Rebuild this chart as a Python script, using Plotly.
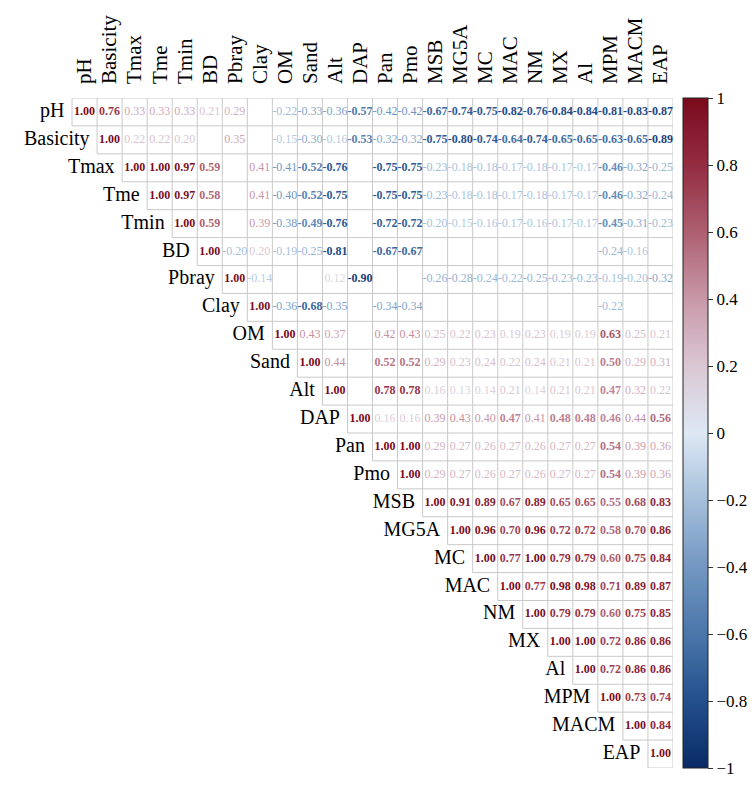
import plotly.graph_objects as go
from plotly.colors import sample_colorscale

variables = ["pH", "Basicity", "Tmax", "Tme", "Tmin", "BD", "Pbray", "Clay", "OM", "Sand",
             "Alt", "DAP", "Pan", "Pmo", "MSB", "MG5A", "MC", "MAC", "NM", "MX", "Al",
             "MPM", "MACM", "EAP"]

N = None  # non-significant (blank) cell
# upper-triangle rows, starting at the diagonal
r_pH = [1.00, 0.76, 0.33, 0.33, 0.33, 0.21, 0.29, N, -0.22, -0.33, -0.36, -0.57, -0.42, -0.42,
        -0.67, -0.74, -0.75, -0.82, -0.76, -0.84, -0.84, -0.81, -0.83, -0.87]
r_Basicity = [1.00, 0.22, 0.22, 0.20, N, 0.35, N, -0.15, -0.30, -0.16, -0.53, -0.32, -0.32,
              -0.75, -0.80, -0.74, -0.64, -0.74, -0.65, -0.65, -0.63, -0.65, -0.89]
r_Tmax = [1.00, 1.00, 0.97, 0.59, N, 0.41, -0.41, -0.52, -0.76, N, -0.75, -0.75, -0.23, -0.18,
          -0.18, -0.17, -0.18, -0.17, -0.17, -0.46, -0.32, -0.25]
r_Tme = [1.00, 0.97, 0.58, N, 0.41, -0.40, -0.52, -0.75, N, -0.75, -0.75, -0.23, -0.18, -0.18,
         -0.17, -0.18, -0.17, -0.17, -0.46, -0.32, -0.24]
r_Tmin = [1.00, 0.59, N, 0.39, -0.38, -0.49, -0.76, N, -0.72, -0.72, -0.20, -0.15, -0.16, -0.17,
          -0.16, -0.17, -0.17, -0.45, -0.31, -0.23]
r_BD = [1.00, -0.20, 0.20, -0.19, -0.25, -0.81, N, -0.67, -0.67, N, N, N, N, N, N, N,
        -0.24, -0.16, N]
r_Pbray = [1.00, -0.14, N, N, 0.12, -0.90, N, N, -0.26, -0.28, -0.24, -0.22, -0.25, -0.23,
           -0.23, -0.19, -0.20, -0.32]
r_Clay = [1.00, -0.36, -0.68, -0.35, N, -0.34, -0.34, N, N, N, N, N, N, N, -0.22, N, N]
r_OM = [1.00, 0.43, 0.37, N, 0.42, 0.43, 0.25, 0.22, 0.23, 0.19, 0.23, 0.19, 0.19, 0.63, 0.25, 0.21]
r_Sand = [1.00, 0.44, N, 0.52, 0.52, 0.29, 0.23, 0.24, 0.22, 0.24, 0.21, 0.21, 0.50, 0.29, 0.31]
r_Alt = [1.00, N, 0.78, 0.78, 0.16, 0.13, 0.14, 0.21, 0.14, 0.21, 0.21, 0.47, 0.32, 0.22]
r_DAP = [1.00, 0.16, 0.16, 0.39, 0.43, 0.40, 0.47, 0.41, 0.48, 0.48, 0.46, 0.44, 0.56]
r_Pan = [1.00, 1.00, 0.29, 0.27, 0.26, 0.27, 0.26, 0.27, 0.27, 0.54, 0.39, 0.36]
r_Pmo = [1.00, 0.29, 0.27, 0.26, 0.27, 0.26, 0.27, 0.27, 0.54, 0.39, 0.36]
r_MSB = [1.00, 0.91, 0.89, 0.67, 0.89, 0.65, 0.65, 0.55, 0.68, 0.83]
r_MG5A = [1.00, 0.96, 0.70, 0.96, 0.72, 0.72, 0.58, 0.70, 0.86]
r_MC = [1.00, 0.77, 1.00, 0.79, 0.79, 0.60, 0.75, 0.84]
r_MAC = [1.00, 0.77, 0.98, 0.98, 0.71, 0.89, 0.87]
r_NM = [1.00, 0.79, 0.79, 0.60, 0.75, 0.85]
r_MX = [1.00, 1.00, 0.72, 0.86, 0.86]
r_Al = [1.00, 0.72, 0.86, 0.86]
r_MPM = [1.00, 0.73, 0.74]
r_MACM = [1.00, 0.84]
r_EAP = [1.00]

rows = [r_pH, r_Basicity, r_Tmax, r_Tme, r_Tmin, r_BD, r_Pbray, r_Clay, r_OM, r_Sand, r_Alt,
        r_DAP, r_Pan, r_Pmo, r_MSB, r_MG5A, r_MC, r_MAC, r_NM, r_MX, r_Al, r_MPM, r_MACM, r_EAP]

cbar_vals = [-1, -0.8, -0.6, -0.4, -0.2, 0, 0.2, 0.4, 0.6, 0.8, 1]
cbar_text = ["\u22121", "\u22120.8", "\u22120.6", "\u22120.4", "\u22120.2", "0",
             "0.2", "0.4", "0.6", "0.8", "1"]

colorscale = [
    [0.00, "#0a2a66"],
    [0.10, "#23508c"],
    [0.20, "#4a76aa"],
    [0.30, "#7397c2"],
    [0.40, "#a5bfda"],
    [0.50, "#dde9f4"],
    [0.60, "#dac7d3"],
    [0.70, "#c898a8"],
    [0.80, "#ad5f70"],
    [0.90, "#942c42"],
    [1.00, "#7a0a1c"],
]

n = len(variables)
for i, r in enumerate(rows):
    assert len(r) == n - i, (variables[i], len(r))

SERIF = "Liberation Serif"

# cell numbers
tx, ty, tt, tc = [], [], [], []
for i, r in enumerate(rows):
    for k, v in enumerate(r):
        if v is None:
            continue
        j = i + k
        s = f"{v:.2f}"
        if abs(v) >= 0.45:
            s = f"<b>{s}</b>"
        tx.append(j)
        ty.append(i)
        tt.append(s)
        tc.append(sample_colorscale(colorscale, [(v + 1) / 2])[0])

# grid lines (upper triangle staircase)
gx, gy = [], []
for r in range(n + 1):
    start = max(r - 1, 0) - 0.5
    gx += [start, n - 0.5, None]
    gy += [r - 0.5, r - 0.5, None]
for c in range(n + 1):
    bottom = min(c, n - 1) + 0.5
    gx += [c - 0.5, c - 0.5, None]
    gy += [-0.5, bottom, None]

fig = go.Figure()
fig.add_trace(go.Scatter(x=gx, y=gy, mode="lines", line=dict(color="#c9c9c9", width=1),
                         hoverinfo="skip", showlegend=False))
fig.add_trace(go.Scatter(x=tx, y=ty, mode="text", text=tt,
                         textfont=dict(family=SERIF, size=12, color=tc),
                         hoverinfo="skip", showlegend=False))
# row labels to the left of each diagonal cell
fig.add_trace(go.Scatter(x=[i - 0.5 - 0.3 for i in range(n)], y=list(range(n)), mode="text",
                         text=variables, textposition="middle left", cliponaxis=False,
                         textfont=dict(family=SERIF, size=20, color="black"),
                         hoverinfo="skip", showlegend=False))
# colour bar carrier
fig.add_trace(go.Scatter(x=[n - 1], y=[0], mode="markers",
                         marker=dict(color=[0], cmin=-1, cmax=1, colorscale=colorscale,
                                     opacity=0, size=1, showscale=True,
                                     colorbar=dict(x=1.016, xanchor="left", xpad=0,
                                                   y=0.5, yanchor="middle", ypad=0,
                                                   len=1, lenmode="fraction", thickness=25,
                                                   outlinecolor="#222222", outlinewidth=1,
                                                   tickmode="array", tickvals=cbar_vals,
                                                   ticktext=cbar_text, ticks="outside",
                                                   ticklen=5, tickcolor="#333333",
                                                   ticklabeloverflow="allow",
                                                   tickfont=dict(family=SERIF, size=17,
                                                                 color="black"))),
                         hoverinfo="skip", showlegend=False))

# the page body adds an 8px margin, so the figure is sized to fit inside it;
# one extra empty column on the left holds the first row label
fig.update_layout(
    width=740, height=771,
    margin=dict(l=39, r=75, t=90, b=11, autoexpand=False),
    paper_bgcolor="white", plot_bgcolor="white",
    showlegend=False,
    xaxis=dict(side="top", range=[-1.5, n - 0.5], tickmode="array",
               tickvals=list(range(n)), ticktext=variables, tickangle=-90,
               tickfont=dict(family=SERIF, size=21, color="black"),
               showgrid=False, zeroline=False, showline=False, ticks="",
               ticklabelstandoff=13),
    yaxis=dict(range=[n - 0.5, -0.5], showticklabels=False, showgrid=False,
               zeroline=False, showline=False, ticks=""),
)

fig.write_html("out.html")
